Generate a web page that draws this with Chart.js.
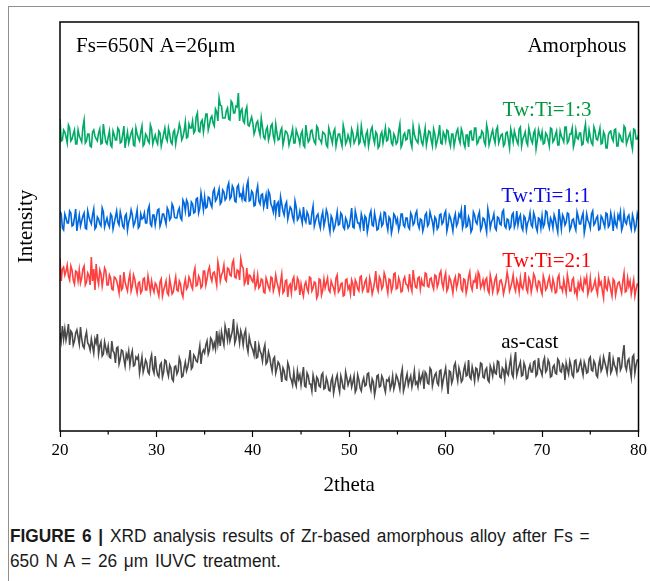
<!DOCTYPE html>
<html>
<head>
<meta charset="utf-8">
<title>XRD Zr-based amorphous alloy</title>
<script src="https://cdn.jsdelivr.net/npm/chart.js@4.4.1/dist/chart.umd.min.js"></script>
<style>
  html, body { margin: 0; padding: 0; background: #fff; }
  #page { position: relative; width: 650px; height: 581px; overflow: hidden; }
  #frame { position: absolute; left: 8px; top: 6px; right: 0; bottom: 0;
           border-top: 1px solid #8f8f8f; border-left: 1px solid #8f8f8f; }
  #wrap { position: absolute; left: 0; top: 0; width: 650px; height: 500px; }
  #caption { position: absolute; left: 10px; top: 524px; color: #1a1a1a;
             font: 18px/25px "Liberation Sans", Arial, sans-serif; word-spacing: 2px;
             transform: scaleX(0.96); transform-origin: 0 0; white-space: nowrap; }
  #caption b { font-weight: bold; }
</style>
</head>
<body>
<div id="page">
  <div id="frame"></div>
  <div id="wrap"><canvas id="xrd"></canvas></div>
  <div id="caption"><b>FIGURE 6 |</b> XRD analysis results of Zr-based amorphous alloy after Fs =<br>650 N A = 26 μm IUVC treatment.</div>
</div>

<script>
/* ------------------------------------------------------------------ */
/*  Data: intensity (a.u.) sampled every 0.125 deg from 2theta = 20    */
/*  one row = one degree                                               */
/* ------------------------------------------------------------------ */

var THETA_START = 20;
var THETA_STEP = 0.125;

// Tw:Ti = 1:3
var tw13 = [
  312,290,291,301,299,294,288,306,  303,290,292,297,301,287,287,301,  295,292,289,304,311,288,290,297,
  297,285,284,299,301,295,292,290,  298,302,287,288,307,297,289,287,  294,300,286,284,300,296,291,291,
  303,301,288,289,296,305,283,292,  299,288,293,298,301,286,285,303,  297,293,290,299,305,285,287,297,
  295,290,288,306,302,287,292,296,  290,287,300,298,285,291,297,303,  293,290,303,297,289,287,299,301,
  287,295,299,307,302,291,294,300,  309,293,294,307,303,303,310,298,  300,314,318,300,299,309,311,299,
  308,317,317,301,306,313,315,308,  305,322,319,310,333,326,325,313,  313,313,320,323,312,311,330,328,
  318,318,325,324,338,310,320,322,  310,308,320,324,306,305,310,314,  308,297,301,308,310,301,296,313,
  304,294,292,301,304,291,296,305,  307,295,290,307,298,291,292,300,  303,286,292,300,299,296,286,291,
  296,302,288,288,301,297,293,287,  297,300,286,284,306,296,289,291,  300,301,294,289,287,305,303,292,
  291,288,299,298,296,286,284,303,  298,293,288,299,302,285,292,297,  297,290,285,306,300,287,290,296,
  292,287,302,298,288,291,295,303,  287,289,305,296,290,286,297,300,  285,292,301,304,293,288,299,297,
  283,285,296,299,288,295,303,290,  291,302,300,288,286,297,294,287,  289,300,307,284,287,296,298,291,
  292,301,301,289,284,305,297,292,  290,288,304,298,289,286,295,303,  286,293,300,299,291,285,302,297,
  285,290,296,306,288,287,299,296,  290,301,300,290,285,297,297,285,  292,299,302,292,288,302,298,288,
  284,296,296,284,299,300,291,291,  303,303,287,289,294,293,300,298,  289,286,306,300,286,291,297,301,
  293,288,301,304,288,292,296,297,  285,287,298,299,291,283,302,296,  289,300,295,290,287,302,304,285,
  292,295,299,289,286,303,297,291,  288,298,301,282,290,301,296,292,  299,287,288,298,296,291,285,303,
  302,289,291,296,300,286,286,300,  295,292,289,304,304,288,290,297,  297,303,284,289,301,293,292,298,
  298,286,287,300,307,291,289,301,  294,288,286,304,300,292,291,297,  303,287,288,299,296,283,283,296,
  299,300,293,290,301,302,285,285,  297,295,290,289,305,303,287,291,  295,298,288,282,302,301,292,292,
  296
];

// Tw:Ti = 1:1
var tw11 = [
  220,217,203,201,217,213,208,208,  220,218,205,206,213,222,200,209,  216,205,210,215,218,203,202,220,
  214,210,207,216,222,202,204,214,  212,207,205,223,219,204,209,213,  207,204,217,215,202,208,214,220,
  209,206,219,213,205,203,215,217,  201,209,213,221,216,205,208,214,  221,203,205,217,212,213,218,208,
  208,221,225,207,205,216,216,206,  214,221,222,205,209,217,217,212,  207,223,220,211,213,227,224,214,
  213,213,220,223,213,211,231,228,  220,231,228,215,216,229,227,218,  219,232,233,218,223,238,230,221,
  234,223,224,234,233,227,224,239,  242,230,232,237,242,227,229,241,  239,231,233,244,248,232,234,245,
  242,230,229,244,246,235,237,232,  242,231,230,245,250,230,231,240,  238,225,226,239,245,230,227,236,
  237,224,230,236,222,240,237,227,  224,219,231,217,227,229,214,234,  227,220,216,226,229,212,218,224,
  222,214,210,230,224,211,213,220,  214,208,224,212,209,219,216,207,  207,218,225,205,210,215,217,208,
  203,214,219,205,211,221,217,206,  199,215,212,201,204,211,219,206,  207,218,216,204,202,213,210,203,
  205,213,223,204,203,220,214,208,  208,203,217,212,200,215,213,199,  206,216,220,206,205,218,211,201,
  202,211,216,205,207,219,218,207,  201,214,212,198,204,217,215,208,  212,201,206,217,217,206,204,213,
  213,204,202,218,215,206,208,217,  220,207,203,212,211,200,205,216,  218,205,207,219,214,209,201,214,
  212,202,204,216,217,207,209,217,  220,200,206,216,213,207,200,212,  217,205,208,217,214,221,203,208,
  226,204,205,214,210,199,202,219,  216,209,207,215,219,201,204,213,  212,206,199,222,215,203,209,212,
  217,203,201,214,213,207,206,219,  221,205,203,212,211,202,204,216,  218,204,208,220,206,213,216,204,
  201,215,213,201,208,211,218,206,  204,218,214,204,200,213,212,203,  215,204,207,220,219,208,203,213,
  210,203,216,212,205,199,222,212,  202,216,213,206,209,218,217,201,  204,211,212,205,201,219,214,207,
  207,214,218,198,205,217,211,208,  203,217,220,206,208,213,215,201,  202,215,213,208,204,218,217,204,
  206,218,212,200,215,207,204,216,  212,219,201,205,218,209,207,214,  216,207,202,216,211,201,205,217,
  212
];

// Tw:Ti = 2:1
var tw21 = [
  173,150,162,164,156,160,166,155,  151,165,161,151,147,160,159,150,  161,148,153,162,165,146,149,158,
  155,146,174,150,162,141,167,153,  147,161,157,145,153,163,160,146,  146,156,153,142,141,154,153,150,
  145,138,156,141,143,159,149,144,  140,151,157,140,145,156,152,144,  138,148,149,138,140,152,153,141,
  141,155,147,139,150,143,139,148,  146,140,135,149,152,135,141,145,  150,138,136,152,145,137,139,147,
  154,141,140,150,147,138,134,146,  152,142,144,154,151,145,142,158,  163,145,146,155,152,143,145,160,
  160,146,152,160,164,154,150,158,  159,153,146,169,162,150,156,159,  166,152,150,163,162,156,155,168,
  171,154,153,161,160,151,172,165,  163,147,150,163,146,156,155,151,  149,157,143,147,156,143,145,152,
  151,139,138,153,149,144,141,154,  153,140,145,156,149,144,138,149,  157,138,140,150,151,134,145,147,
  138,151,154,141,142,153,150,136,  147,140,135,146,149,142,139,154,  153,140,143,149,148,133,136,152,
  151,136,141,152,143,148,153,141,  139,150,146,143,138,153,156,139,  141,147,148,135,136,151,152,142,
  145,137,151,147,135,151,148,142,  140,154,155,140,143,149,152,139,  139,153,147,137,142,149,160,144,
  140,154,151,142,145,158,154,145,  138,152,151,140,144,157,158,142,  143,153,149,139,140,151,154,147,
  146,142,157,145,140,161,151,144,  143,153,154,142,151,146,145,158,  157,145,144,152,153,146,142,156,
  155,144,148,157,160,148,143,153,  158,140,143,154,151,145,138,150,  154,143,148,157,156,142,140,152,
  151,138,144,154,159,145,141,150,  149,155,142,159,156,143,146,151,  143,151,153,141,138,156,150,139,
  145,152,155,138,141,150,151,146,  137,143,149,159,152,140,144,149,  156,144,140,151,147,139,153,144,
  142,149,159,142,139,153,150,139,  146,157,154,145,141,150,149,141,  137,155,150,141,143,150,154,145,
  141,152,147,138,139,153,156,143,  144,140,151,144,138,156,149,140,  140,151,153,139,142,135,148,143,
  151,142,140,152,148,154,137,142,  153,140,142,146,151,142,137,154,  146,149,140,133,155,143,141,152,
  148,141,135,152,150,136,143,148,  149,143,138,150,158,139,140,153,  145,150,137,144,151,135,142,147,
  147
];

// as-cast
var asCast = [
   98, 90,105, 92,102, 91, 98,107,   86,100, 98, 86, 90, 98,101, 94,   87,104, 92, 85, 83, 94, 99, 88,
   86, 81, 92, 85, 78, 92, 88, 97,   77, 85, 89, 75, 77, 89, 83, 78,   85, 74, 73, 90, 80, 78, 68, 83,
   84, 67, 72, 81, 80, 72, 65, 77,   73, 80, 66, 75, 80, 65, 66, 74,   72, 75, 58, 66, 74, 59, 64, 71,
   68, 59, 57, 71, 76, 62, 58, 75,   62, 56, 54, 66, 68, 54, 59, 71,   70, 60, 55, 66, 63, 52, 50, 64,
   65, 57, 60, 73, 69, 54, 55, 63,   69, 60, 64, 71, 81, 62, 64, 76,   74, 70, 69, 77, 85, 67, 78, 81,
   78, 86, 90, 77, 81, 93, 91, 83,   88, 82,100, 87, 96, 85, 99, 92,   86,105, 99, 91,103, 90, 95,100,
  112, 88, 92,104, 97, 88,100, 95,   86, 97,101, 85, 79, 94, 88, 84,   81, 76, 90, 73, 74, 86, 80, 77,
   70, 81, 86, 67, 69, 79, 74, 66,   60, 72, 74, 58, 63, 69, 67, 60,   49, 63, 60, 52, 51, 68, 64, 54,
   51, 46, 59, 49, 45, 60, 52, 56,   46, 55, 64, 45, 44, 58, 55, 47,   47, 40, 56, 50, 39, 54, 52, 45,
   44, 56, 58, 42, 43, 53, 49, 41,   40, 50, 54, 38, 45, 52, 56, 45,   39, 55, 50, 43, 42, 59, 53, 46,
   50, 54, 44, 49, 55, 39, 42, 56,   51, 43, 40, 49, 53, 45, 46, 57,   58, 46, 41, 52, 49, 36, 43, 55,
   56, 44, 45, 55, 52, 44, 39, 51,   50, 53, 42, 46, 55, 42, 47, 56,   53, 48, 42, 56, 62, 40, 45, 52,
   57, 46, 51, 55, 44, 50, 60, 47,   49, 44, 57, 49, 54, 58, 42, 59,   57, 48, 47, 63, 61, 45, 51, 56,
   58, 48, 46, 60, 61, 44, 51, 57,   63, 50, 37, 60, 59, 48, 52, 65,   68, 57, 50, 63, 58, 49, 51, 61,
   66, 55, 56, 71, 54, 52, 64, 58,   50, 63, 62, 52, 57, 68, 67, 54,   53, 61, 63, 51, 49, 65, 61, 55,
   65, 58, 57, 70, 69, 54, 53, 63,   61, 52, 67, 58, 56, 66, 73, 57,   54, 70, 79, 56, 61, 65, 69, 55,
   56, 68, 64, 52, 53, 62, 66, 59,   59, 69, 70, 55, 57, 73, 63, 60,   56, 69, 73, 59, 61, 71, 68, 54,
   55, 64, 66, 58, 57, 72, 70, 60,   59, 67, 65, 51, 68, 62, 57, 70,   65, 56, 54, 70, 71, 59, 60, 66,
   70, 62, 56, 69, 65, 58, 59, 72,   74, 61, 60, 70, 67, 56, 54, 66,   72, 60, 63, 74, 69, 64, 58, 69,
   79, 58, 61, 72, 66, 63, 58, 73,   73, 61, 64, 77, 86, 65, 61, 70,   72, 62, 54, 74, 76, 58, 66, 71,
   71
];

var MAJOR_STEP = 10;
var MINOR_TICKS = [25, 35, 45, 55, 65, 75];

/* ------------------------------------------------------------------ */
/*  Style                                                              */
/* ------------------------------------------------------------------ */

var SERIF = "'Liberation Serif', 'Times New Roman', serif";

var COLORS = {
  tw13:   "#00aa66",
  tw11:   "#0068dc",
  tw21:   "#ff4040",
  asCast: "#4a4a4a",
};

// text labels, anchored in data coordinates
var LABELS = [
  { text: "Fs=650N A=26\u03bcm", x: 21.66, y: 379, align: "left",  color: "#000" },
  { text: "Amorphous",          x: 78.76, y: 379, align: "right", color: "#000" },
  { text: "Tw:Ti=1:3",          x: 65.9,  y: 315, align: "left",  color: "#00983f" },
  { text: "Tw:Ti=1:1",          x: 65.77, y: 229, align: "left",  color: "#0a0ae6" },
  { text: "Tw:Ti=2:1",          x: 65.88, y: 164, align: "left",  color: "#ff0000" },
  { text: "as-cast",            x: 65.77, y: 83,  align: "left",  color: "#000" },
];

/* ------------------------------------------------------------------ */
/*  Helpers                                                            */
/* ------------------------------------------------------------------ */

function toPoints(values) {
  return values.map(function (v, i) {
    return { x: THETA_START + i * THETA_STEP, y: v };
  });
}

function series(label, values, color) {
  return {
    label: label,
    data: toPoints(values),
    borderColor: color,
    borderWidth: 1.6,
    pointRadius: 0,
    tension: 0,
    fill: false,
  };
}

// plot box, minor ticks and curve labels
var xrdDecor = {
  id: "xrdDecor",
  afterDraw: function (chart) {
    var ctx = chart.ctx, a = chart.chartArea;
    var xs = chart.scales.x, ys = chart.scales.y;
    ctx.save();

    ctx.strokeStyle = "#000";
    ctx.lineWidth = 1.5;
    ctx.strokeRect(a.left, a.top, a.right - a.left, a.bottom - a.top);

    ctx.lineWidth = 1.2;
    MINOR_TICKS.forEach(function (v) {
      var px = xs.getPixelForValue(v);
      ctx.beginPath();
      ctx.moveTo(px, a.bottom);
      ctx.lineTo(px, a.bottom + 3.5);
      ctx.stroke();
    });

    ctx.font = "21px " + SERIF;
    ctx.textBaseline = "alphabetic";
    LABELS.forEach(function (l) {
      ctx.fillStyle = l.color;
      ctx.textAlign = l.align;
      ctx.fillText(l.text, xs.getPixelForValue(l.x), ys.getPixelForValue(l.y));
    });

    ctx.restore();
  },
};

/* ------------------------------------------------------------------ */
/*  Chart                                                              */
/* ------------------------------------------------------------------ */

new Chart(document.getElementById("xrd"), {
  type: "line",
  data: {
    datasets: [
      series("Tw:Ti=1:3", tw13, COLORS.tw13),
      series("Tw:Ti=1:1", tw11, COLORS.tw11),
      series("Tw:Ti=2:1", tw21, COLORS.tw21),
      series("as-cast", asCast, COLORS.asCast),
    ],
  },
  options: {
    responsive: true,
    maintainAspectRatio: false,
    animation: false,
    layout: { padding: { top: 22, right: 11, bottom: 0, left: 0 } },
    plugins: {
      legend: { display: false },
      tooltip: { enabled: false },
    },
    scales: {
      x: {
        type: "linear",
        min: 20,
        max: 80,
        ticks: { stepSize: MAJOR_STEP, color: "#000", font: { family: SERIF, size: 17 }, padding: 3, maxRotation: 0 },
        grid: { drawOnChartArea: false, drawTicks: true, tickLength: 6, tickColor: "#000", tickWidth: 1.2 },
        border: { display: false },
        title: { display: true, text: "2theta", color: "#000", font: { family: SERIF, size: 21 }, padding: { top: 0, bottom: 2 } },
        afterFit: function (s) { s.height = 69; },
      },
      y: {
        min: 0,
        max: 409,
        ticks: { display: false },
        grid: { display: false },
        border: { display: false },
        title: { display: true, text: "Intensity", color: "#000", font: { family: SERIF, size: 21 }, padding: { top: 14, bottom: 0 } },
        afterFit: function (s) { s.width = 60; },
      },
    },
  },
  plugins: [xrdDecor],
});
</script>
</body>
</html>
